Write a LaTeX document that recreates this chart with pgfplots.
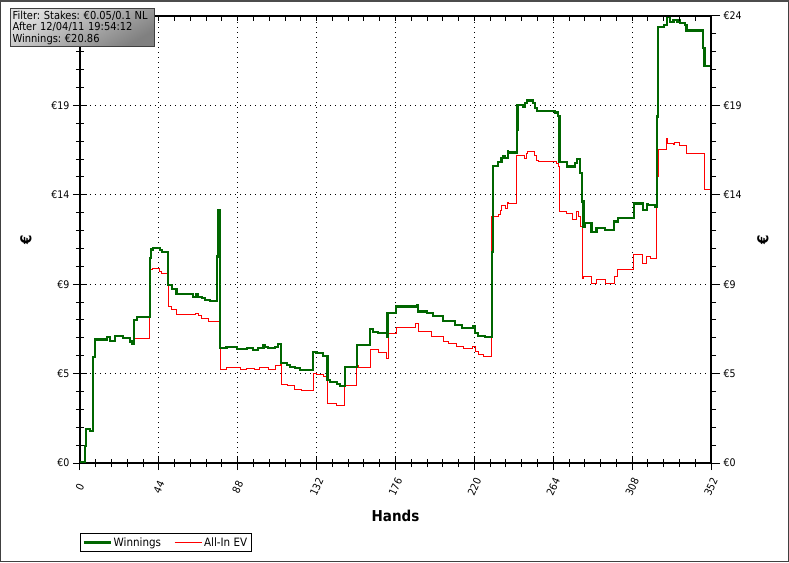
\documentclass[border=0pt]{standalone}
\usepackage{fontspec}
\setmainfont{DejaVu Sans Condensed}
\usepackage{pgfplots}
\usepackage{pgfplotstable}
\pgfplotsset{compat=1.18}
\frenchspacing

\definecolor{wingreen}{RGB}{0,102,0}
\definecolor{evred}{RGB}{255,0,0}

% Winnings (EUR) per hand, step values
\pgfplotstableread{
h v
0 0.07
2.8 0.9
3.5 1.77
5.6 1.67
7.1 5.59
8.4 6.5
14.9 6.61
16.7 6.43
19.5 6.68
24 6.59
27.9 6.38
29 6.26
30.3 7.52
31.8 7.66
39 10.76
39.6 11.23
40.9 11.29
44.6 11.2
45.6 11.11
48.9 9.36
51.2 9.13
53.9 8.89
63 8.74
64.7 8.87
66 8.74
67.9 8.66
69.7 8.57
72.5 8.52
76.6 10.85
77.2 13.3
78.1 6.03
81.8 6.11
87.4 5.99
93 6.03
96.5 5.94
99.3 6.03
102.3 6.17
103.2 6.1
104.9 6.03
108.8 6.1
110.5 6.24
112.3 5.24
115.3 5.15
117.1 5.06
119.9 4.98
122.7 4.89
130.1 5.85
132 5.77
135.7 5.63
138 4.36
139.5 4.27
143.2 4.15
145 4.05
147.8 5.03
154.4 6.2
161.8 7.03
163.6 6.9
166.4 6.85
171.1 6.64
171.6 7.87
176.3 8.22
187.8 8.31
188.6 7.96
193.4 7.87
196.9 7.73
202.5 7.48
209.2 7.26
213.1 7.08
219.1 7.17
220.4 6.85
222 6.68
225.9 6.64
230 11.1
230.4 15.6
233.2 15.84
235.2 16.02
236 16.14
237.1 16.02
238.6 16.37
238.9 16.32
243.8 17.54
244 18.82
247.1 18.73
248.2 18.91
249.2 19.05
252.7 18.91
253.8 18.65
254.8 18.52
265 18.42
266.8 18.24
267.4 15.84
271.5 15.58
276.1 15.76
277.1 15.97
278.9 15.23
279.9 15.14
280.2 13.74
280.8 12.42
281.7 12.6
285.4 12.16
288.2 12.34
292.9 12.25
297.9 12.69
300.1 12.87
309 13.65
313.9 13.3
316.1 13.62
316.9 13.56
320.8 13.48
321.7 18.21
322.3 22.91
325.8 23.03
327.3 23.47
329.1 23.2
331 23.29
332.9 23.2
333.6 23.29
334.7 23.12
337.5 23.03
338.4 22.73
347.7 21.8
348.3 20.87
352 20.87
}\winnings

% All-in EV (EUR) per hand, step values
\pgfplotstableread{
h v
0 0.07
2.8 0.9
3.5 1.77
5.6 1.67
7.1 5.59
8.4 6.5
14.9 6.61
16.7 6.43
19.5 6.68
24 6.59
27.9 6.38
29 6.45
30.3 6.56
38.5 10.15
40.7 10.2
44.6 10.09
45.7 9.97
49.3 8.22
51.2 8.08
53.9 7.82
64.2 7.87
66 7.78
67.9 7.61
71.6 7.43
78.1 4.93
81.8 5.01
89.3 4.89
93 4.98
97.6 4.89
100.4 5.03
104.9 4.93
108.8 5.1
111.6 5.24
112.5 4.15
116 4.05
119.9 3.87
123.7 3.8
130.1 4.72
132 4.63
135.7 4.54
138.2 3.14
143.2 3.0
147.8 4.05
154.4 5.1
155.3 5.03
161.8 5.98
166.4 5.8
171.1 5.5
172 6.82
176.3 7.13
187.4 7.34
188.6 6.9
196.2 6.64
202.7 6.38
205.3 6.29
210.1 6.11
213.8 6.03
219.1 6.11
220.4 5.85
222.2 5.68
225 5.59
229.7 12.95
233.2 13.04
234.3 13.3
235.2 13.56
237.1 13.39
238.6 13.69
238.9 13.62
243.6 16.14
247.7 16.02
248.8 16.25
249.5 16.37
253.8 16.14
254.8 15.89
255.7 15.84
265.9 15.76
266.8 15.58
267.4 13.21
271.5 13.13
274.5 12.81
277.1 13.21
278 12.95
279.3 12.42
280.2 9.71
280.8 9.83
285.4 9.45
288.2 9.66
292.9 9.45
297.9 9.8
300.1 10.15
309 10.94
313.9 10.5
316.1 10.88
318 10.76
321.7 15.05
322.6 16.46
327.3 17.07
328 16.81
331 16.72
331.9 16.84
334.7 16.67
338.4 16.28
348.1 14.39
352 14.39
}\allinev

\pgfplotsset{
  base/.style={
    scale only axis, width=631pt, height=447pt,
    xmin=0, xmax=352, ymin=0, ymax=23.5,
    xtick={0,44,...,352},
    ytick={0,4.7,9.4,14.1,18.8,23.5},
    minor x tick num=4, minor y tick num=4,
    axis line style={line width=1.2pt},
    tick style={black, line width=1pt},
    tick label style={font=\fontsize{10.5}{12}\selectfont},
    /pgf/number format/assume math mode=true,
  },
}

\begin{document}
\begin{tikzpicture}
\path[use as bounding box] (-80pt,-99pt) rectangle (709pt,463pt);

% main axis: data, grid, left and bottom ticks
\begin{axis}[base,
  xtick pos=bottom, ytick pos=left, tick align=center,
  major tick length=14pt, minor tick length=8pt,
  grid=major,
  grid style={black, line width=0.9pt, dash pattern=on 0.9pt off 4.1pt},
  yticklabels={€0,€5,€9,€14,€19,},
  xticklabel style={yshift=-17pt, rotate=65, anchor=center},
  xlabel={Hands},
  xlabel style={font=\bfseries\fontsize{15}{18}\selectfont,
    at={([yshift=-53pt]rel axis cs:0.5,0)}, anchor=center},
  ylabel={€},
  ylabel style={font=\bfseries\fontsize{15}{18}\selectfont,
    at={([xshift=-54pt]rel axis cs:0,0.5)}, anchor=center},
  legend style={at={([yshift=-70pt]rel axis cs:0,0)}, anchor=north west,
    legend columns=2, draw=black, line width=0.8pt,
    font=\fontsize{11.5}{13}\selectfont, inner sep=2pt,
    /tikz/every even column/.append style={column sep=11pt}},
  legend image code/.code={\draw[#1] (0pt,0pt) -- (27pt,0pt);},
]
\addlegendimage{wingreen, line width=2.3pt}
\addlegendentry{Winnings}
\addlegendimage{evred, line width=1pt}
\addlegendentry{All-In EV}

\addplot[const plot, evred, line width=1pt, forget plot] table[x=h, y=v] {\allinev};
\addplot[const plot, wingreen, line width=2.3pt, forget plot] table[x=h, y=v] {\winnings};

\draw[line width=1pt] ([yshift=-2.2pt]rel axis cs:0,0) -- ([yshift=-2.2pt]rel axis cs:1,0);
\end{axis}

% right axis: labels repeated
\begin{axis}[base,
  axis x line=none, axis y line*=right, xtick=\empty,
  tick align=outside, major tick length=9pt, minor tick length=5pt,
  yticklabels={€0,€5,€9,€14,€19,€24},
  ylabel={€},
  ylabel style={font=\bfseries\fontsize{15}{18}\selectfont,
    at={([xshift=52pt]rel axis cs:1,0.5)}, anchor=center},
]
\end{axis}

% top axis: inward minor ticks only
\begin{axis}[base,
  axis y line=none, axis x line*=top, ytick=\empty,
  tick align=inside, major tick length=5pt, minor tick length=5pt,
  xticklabels={},
]
\end{axis}

% info box
\node[draw=black!75, line width=1.3pt, top color=black!12, bottom color=black!50,
  shading angle=30, anchor=north west, text width=140pt, inner sep=2pt,
  align=left, font=\fontsize{11}{11.7}\selectfont]
  at (-70pt,455pt) {Filter: Stakes: €0.05/0.1 NL\\After 12/04/11 19:54:12\\Winnings: €20.86};

% window frame
\draw[line width=1.5pt, black!75] (-79.25pt,-98.25pt) rectangle (708.25pt,462.25pt);
\fill[black!70] (-80pt,460.5pt) rectangle (709pt,463pt);
\end{tikzpicture}
\end{document}
